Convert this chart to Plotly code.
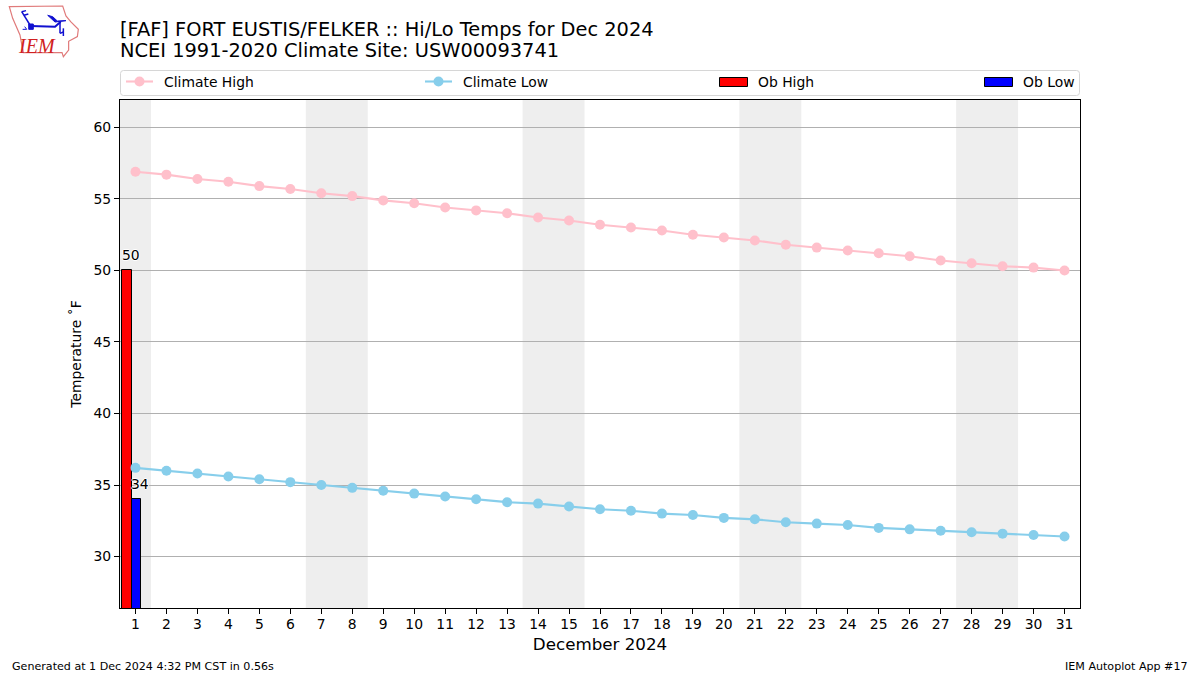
import plotly.graph_objects as go

days = list(range(1, 32))
climate_high = [56.9,56.7,56.4,56.2,55.9,55.7,55.4,55.2,54.9,54.7,54.4,54.2,54.0,53.7,53.5,53.2,53.0,52.8,52.5,52.3,52.1,51.8,51.6,51.4,51.2,51.0,50.7,50.5,50.3,50.2,50.0]
climate_low = [36.2,36.0,35.8,35.6,35.4,35.2,35.0,34.8,34.6,34.4,34.2,34.0,33.8,33.7,33.5,33.3,33.2,33.0,32.9,32.7,32.6,32.4,32.3,32.2,32.0,31.9,31.8,31.7,31.6,31.5,31.4]
ob_days = [1]
ob_high = [50]
ob_low = [34]
weekend_spans = [(0.5,1.5),(6.5,8.5),(13.5,15.5),(20.5,22.5),(27.5,29.5)]
title_lines = ["[FAF] FORT EUSTIS/FELKER :: Hi/Lo Temps for Dec 2024", "NCEI 1991-2020 Climate Site: USW00093741"]
legend_names = ["Climate High", "Climate Low", "Ob High", "Ob Low"]

FONT = "DejaVu Sans"
L, R, T, B = 120, 1080, 100, 608
W, H = 1200, 675
def px(x): return (x - L) / (R - L)
def py(y): return (B - y) / (B - T)

BAR_W = 0.3
HALO = "1px 0 0 #fff,-1px 0 0 #fff,0 1px 0 #fff,0 -1px 0 #fff"

fig = go.Figure()
fig.add_trace(go.Scatter(x=days, y=climate_high, name="Climate High", mode="lines+markers",
                         line=dict(color="pink", width=2.1), marker=dict(color="pink", size=10), cliponaxis=False))
fig.add_trace(go.Scatter(x=days, y=climate_low, name="Climate Low", mode="lines+markers",
                         line=dict(color="skyblue", width=2.1), marker=dict(color="skyblue", size=10), cliponaxis=False))
fig.add_trace(go.Bar(x=[d - 0.275 for d in ob_days], y=ob_high, width=BAR_W, name="Ob High",
                     marker=dict(color="red", line=dict(color="black", width=1))))
fig.add_trace(go.Bar(x=[d + 0.025 for d in ob_days], y=ob_low, width=BAR_W, name="Ob Low",
                     marker=dict(color="blue", line=dict(color="black", width=1))))

shapes = [dict(type="rect", xref="x", yref="paper", x0=a, x1=b, y0=0, y1=1, layer="below",
               fillcolor="#eeeeee", line=dict(width=0)) for a, b in weekend_spans]

# IEM logo, drawn in pixel positions of the page (3x zoom coordinates)
def path(points, close=False):
    s = "M " + " L ".join(f"{px(x/3):.4f},{py(y/3):.4f}" for x, y in points)
    return s + (" Z" if close else "")
def logo(points, color, width=1, fill=None, close=False):
    shapes.append(dict(type="path", xref="paper", yref="paper", path=path(points, close),
                       line=dict(color=color, width=width),
                       fillcolor=fill if fill else "rgba(0,0,0,0)"))
logo([(28,20),(188,18),(198,48),(212,65),(235,88),(232,110),(206,124),(206,150),(190,170),(186,158),(70,158),(60,105),(38,55)],
     "#e07a7a", 1.2, close=True)
logo([(92,78),(165,80),(182,65)], "#1010d0", 2)
logo([(65,35),(92,78)], "#1010d0", 1.5)
logo([(65,35),(78,32)], "#1010d0", 1.5)
logo([(72,46),(85,42)], "#1010d0", 1.5)
logo([(143,46),(158,50),(172,63),(198,62),(165,66)], "#1010d0", 1, fill="#1010d0", close=True)
logo([(180,65),(180,100)], "#1010d0", 1.5)
logo([(180,100),(190,96)], "#1010d0", 1.5)
logo([(190,85),(190,108)], "#1010d0", 1.5)
logo([(86,72),(100,72),(100,88),(86,88)], "#1010d0", 1, fill="#1010d0", close=True)
logo([(68,88),(80,88),(74,80)], "#1010d0", 1)

# legend frame and keys, spread across the plot width as in the reference
def pix_shape(kind, x0, y0, x1, y1, **kw):
    shapes.append(dict(type=kind, xref="paper", yref="paper", x0=px(x0), x1=px(x1), y0=py(y0), y1=py(y1), **kw))
r = 3
fx0, fx1, fy0, fy1 = 120.5, 1079.5, 70.5, 95.5
frame = (f"M {px(fx0+r)},{py(fy0)} L {px(fx1-r)},{py(fy0)} Q {px(fx1)},{py(fy0)} {px(fx1)},{py(fy0+r)} "
         f"L {px(fx1)},{py(fy1-r)} Q {px(fx1)},{py(fy1)} {px(fx1-r)},{py(fy1)} "
         f"L {px(fx0+r)},{py(fy1)} Q {px(fx0)},{py(fy1)} {px(fx0)},{py(fy1-r)} "
         f"L {px(fx0)},{py(fy0+r)} Q {px(fx0)},{py(fy0)} {px(fx0+r)},{py(fy0)} Z")
shapes.append(dict(type="path", xref="paper", yref="paper", path=frame, line=dict(color="#d6d6d6", width=1), fillcolor="white"))
for x0, color in [(126, "pink"), (425, "skyblue")]:
    pix_shape("line", x0, 81.5, x0 + 27, 81.5, line=dict(color=color, width=2.1))
    pix_shape("circle", x0 + 8.5, 76.5, x0 + 18.5, 86.5, line=dict(width=0), fillcolor=color)
for x0, color in [(719.5, "red"), (984.5, "blue")]:
    pix_shape("rect", x0, 77.5, x0 + 28, 86.5, line=dict(color="black", width=1), fillcolor=color)

def note(text, x, y, size, xanchor="left", yanchor="middle", color="#000000", family=FONT):
    shift = -2 if xanchor == "left" else (2 if xanchor == "right" else 0)
    return dict(text=text, x=px(x), y=py(y), xref="paper", yref="paper", showarrow=False, xshift=shift,
                xanchor=xanchor, yanchor=yanchor, font=dict(family=family, size=size, color=color))
def value_label(x, v):
    return dict(text=str(v), x=x, y=v, xref="x", yref="y", showarrow=False, xanchor="left", yanchor="middle",
                yshift=15.5, xshift=-4, font=dict(family=FONT, size=13.9, color="black", shadow=HALO))

annotations = [
    note(title_lines[0], 120, 29, 19.4),
    note(title_lines[1], 120, 50.5, 19.4),
    note("Generated at 1 Dec 2024 4:32 PM CST in 0.56s", 12, 666, 11.1),
    note("IEM Autoplot App #17", 1188, 666, 11.1, xanchor="right"),
    note("<i>IEM</i>", 37, 46, 20, xanchor="center", color="#d02020", family="Liberation Serif"),
]
for name, x in zip(legend_names, [164, 463, 758, 1023]):
    annotations.append(note(name, x, 81.5, 13.9))
for d, v in zip(ob_days, ob_high):
    annotations.append(value_label(d - 0.38, v))
for d, v in zip(ob_days, ob_low):
    annotations.append(value_label(d - 0.09, v))

fig.update_layout(
    width=W, height=H, autosize=False, showlegend=False,
    margin=dict(l=L, r=W - R, t=T, b=H - B, pad=0),
    paper_bgcolor="white", plot_bgcolor="white",
    font=dict(family=FONT, size=13.9, color="black"),
    barmode="overlay", bargap=0,
    shapes=shapes, annotations=annotations,
    xaxis=dict(range=[0.5, 31.5], tickmode="array", tickvals=days, ticktext=[str(d) for d in days],
               ticks="outside", ticklen=5, tickwidth=1, tickcolor="black", showgrid=False, zeroline=False,
               showline=True, linecolor="black", linewidth=1, mirror=True, tickangle=0, ticklabelstandoff=-2,
               title=dict(text="December 2024", font=dict(family=FONT, size=16.7), standoff=7)),
    yaxis=dict(range=[26.4, 61.92], tickmode="array", tickvals=[30,35,40,45,50,55,60],
               ticks="outside", ticklen=5, tickwidth=1, tickcolor="black", showgrid=True, gridcolor="#b0b0b0",
               gridwidth=1, zeroline=False, showline=True, linecolor="black", linewidth=1, mirror=True,
               title=dict(text="Temperature ˚F", font=dict(family=FONT, size=13.9), standoff=8)),
)
fig.write_html("out.html", config={"displayModeBar": False}, post_script="document.body.style.margin='0';")
